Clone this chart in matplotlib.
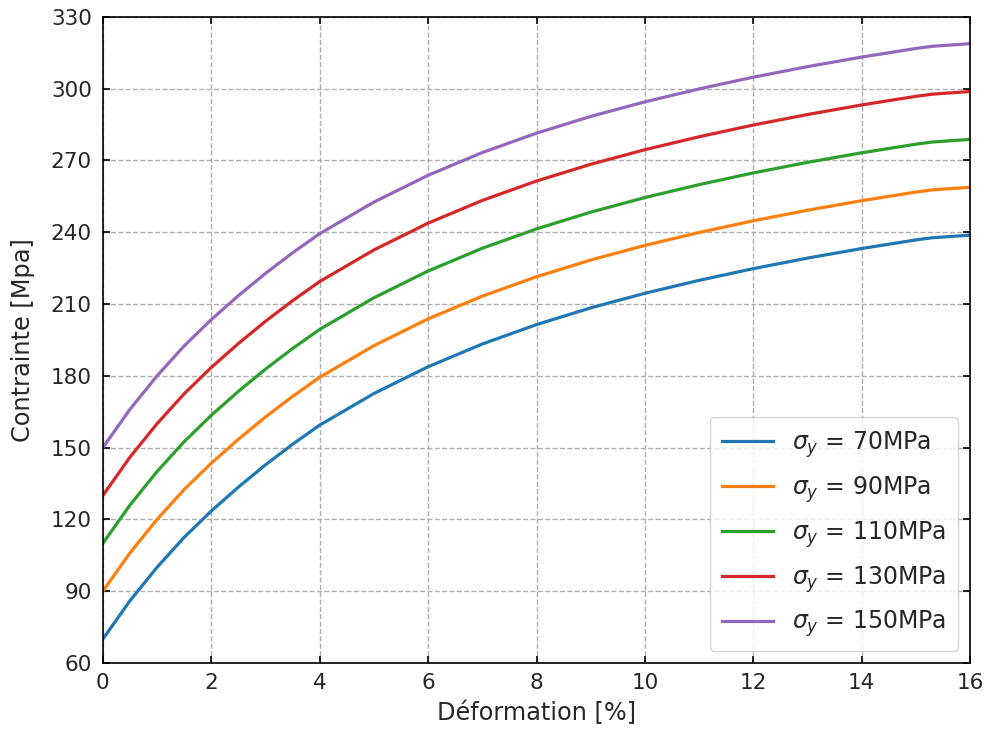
import matplotlib
matplotlib.use("Agg")
import matplotlib.pyplot as plt
from matplotlib.ticker import MultipleLocator

# strain [%]
deformation = [0, 0.5, 1, 1.5, 2, 2.5, 3, 3.5, 4, 5, 6, 7, 8, 9, 10, 11, 12, 13, 14, 15, 15.3, 16]

# stress [MPa] for each yield strength
s_70 = [70, 86, 100, 112.5, 123.5, 133.5, 142.8, 151.4, 159.4, 172.6, 183.8, 193.3, 201.4, 208.4,
        214.5, 219.9, 224.8, 229.2, 233.2, 236.8, 237.7, 238.8]
s_90 = [90, 106, 120, 132.5, 143.5, 153.5, 162.8, 171.4, 179.4, 192.6, 203.8, 213.3, 221.4, 228.4,
        234.5, 239.9, 244.8, 249.2, 253.2, 256.8, 257.7, 258.8]
s_110 = [110, 126, 140, 152.5, 163.5, 173.5, 182.8, 191.4, 199.4, 212.6, 223.8, 233.3, 241.4, 248.4,
         254.5, 259.9, 264.8, 269.2, 273.2, 276.8, 277.7, 278.8]
s_130 = [130, 146, 160, 172.5, 183.5, 193.5, 202.8, 211.4, 219.4, 232.6, 243.8, 253.3, 261.4, 268.4,
         274.5, 279.9, 284.8, 289.2, 293.2, 296.8, 297.7, 298.8]
s_150 = [150, 166, 180, 192.5, 203.5, 213.5, 222.8, 231.4, 239.4, 252.6, 263.8, 273.3, 281.4, 288.4,
         294.5, 299.9, 304.8, 309.2, 313.2, 316.8, 317.7, 318.8]

series = [s_70, s_90, s_110, s_130, s_150]
labels = [r'$\sigma_y$ = 70MPa', r'$\sigma_y$ = 90MPa', r'$\sigma_y$ = 110MPa',
          r'$\sigma_y$ = 130MPa', r'$\sigma_y$ = 150MPa']

txt = '#262626'

fig = plt.figure(figsize=(9.89, 7.33), dpi=100)
ax = fig.add_axes([0.104, 0.0955, 0.877, 0.8815])

for s, lab in zip(series, labels):
    ax.plot(deformation, s, lw=2.3, label=lab)

ax.set_xlim(0, 16)
ax.set_ylim(60, 330)
ax.xaxis.set_major_locator(MultipleLocator(2))
ax.yaxis.set_major_locator(MultipleLocator(30))
ax.tick_params(direction='in', top=True, right=True, labelsize=15.5, length=5,
               width=1.2, labelcolor=txt)
ax.tick_params(axis='x', pad=7)
ax.tick_params(axis='y', pad=8)
for sp in ax.spines.values():
    sp.set_linewidth(1.2)
ax.grid(True, linestyle='--', color='#b0b0b0', lw=1)

ax.set_xlabel('Déformation [%]', fontsize=17.3, color=txt, labelpad=6)
ax.set_ylabel('Contrainte [Mpa]', fontsize=17.3, color=txt, labelpad=11)
leg = ax.legend(loc='lower right', fontsize=17, handlelength=2.2,
                labelspacing=0.6, borderpad=0.5)
for t in leg.get_texts():
    t.set_color(txt)

fig.savefig('out.png', dpi=100)
